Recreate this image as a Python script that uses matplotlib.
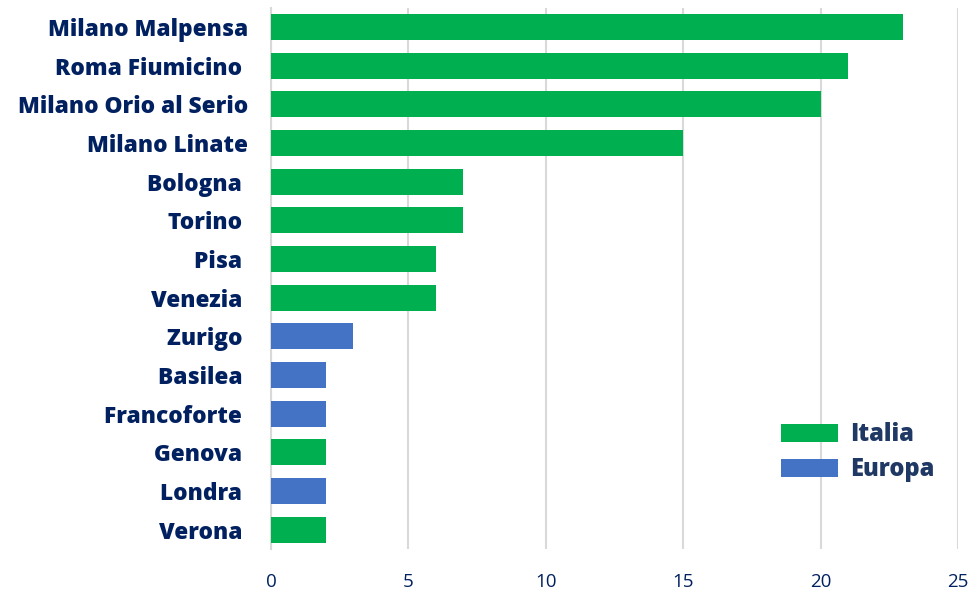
import matplotlib
matplotlib.use("Agg")
import matplotlib.pyplot as plt
from matplotlib.patches import Patch

categories = ["Milano Malpensa", "Roma Fiumicino ", "Milano Orio al Serio", "Milano Linate",
              "Bologna ", "Torino ", "Pisa ", "Venezia ", "Zurigo ", "Basilea ",
              "Francoforte ", "Genova ", "Londra ", "Verona "]
values = [23, 21, 20, 15, 7, 7, 6, 6, 3, 2, 2, 2, 2, 2]
groups = ["Italia", "Italia", "Italia", "Italia", "Italia", "Italia", "Italia", "Italia",
          "Europa", "Europa", "Europa", "Italia", "Europa", "Italia"]
x_ticks = [0, 5, 10, 15, 20, 25]

colors = {"Italia": "#00B050", "Europa": "#4472C4"}
label_color = "#002060"
legend_color = "#1F3864"

fig = plt.figure(figsize=(9.73, 5.91), dpi=100)
ax = fig.add_axes([271/973, 1-549/591, (958-271)/973, (549-7.6)/591])

ypos = list(range(len(categories)))
ax.barh(ypos, values, height=0.67, color=[colors[g] for g in groups], zorder=3)
ax.set_ylim(len(categories)-0.5, -0.5)
ax.set_xlim(0, 25)
ax.set_xticks(x_ticks)
ax.set_xticklabels([str(t) for t in x_ticks], fontsize=13.5, color=label_color, family="Open Sans")
ax.set_yticks(ypos)
ax.set_yticklabels(categories, fontsize=16.3, fontweight="heavy", color=label_color, family="Open Sans")
ax.tick_params(axis="both", length=0)
ax.tick_params(axis="y", pad=16.5)
ax.tick_params(axis="x", pad=17.5)
ax.grid(axis="x", color="#D9D9D9", linewidth=1.5, zorder=0)
for s in ["top", "right", "bottom"]:
    ax.spines[s].set_visible(False)
ax.spines["left"].set_color("#D9D9D9")
ax.spines["left"].set_linewidth(1.5)

handles = [Patch(facecolor=colors["Italia"]), Patch(facecolor=colors["Europa"])]
leg = ax.legend(handles, ["Italia", "Europa"], loc="upper left",
                bbox_to_anchor=(760/973, 1-401/591), bbox_transform=fig.transFigure,
                frameon=False, handlelength=2.4, handleheight=0.75, handletextpad=0.5,
                labelspacing=0.42, prop={"family": "Open Sans", "weight": "heavy", "size": 17})
for t in leg.get_texts():
    t.set_color(legend_color)

fig.savefig("out.png", dpi=100)
